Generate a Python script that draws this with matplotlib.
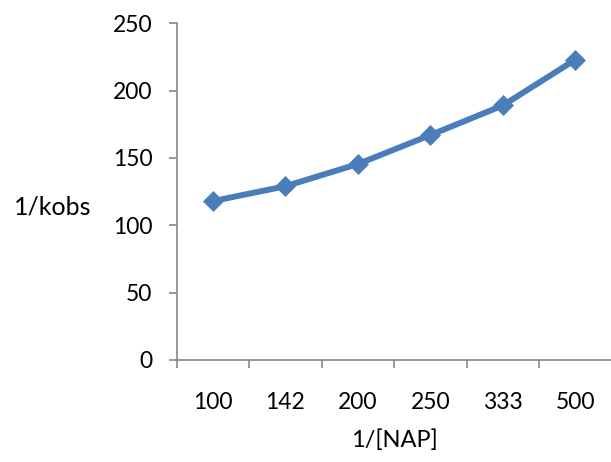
import matplotlib.pyplot as plt

# data
nap_labels = ["100", "142", "200", "250", "333", "500"]
inv_kobs = [118, 129, 145.5, 167, 189, 223]

plt.rcParams['font.family'] = ['Lato', 'DejaVu Sans']

fig = plt.figure(figsize=(6.11, 4.62), dpi=100)
ax = fig.add_axes([0.2892, 0.2208, 0.7118, 0.7288])

x = range(len(nap_labels))
ax.plot(x, inv_kobs, color="#4A7EBB", lw=4.3, marker="D", ms=10,
        mec="#4A7EBB", mew=0.5, solid_joinstyle="miter")

# axes styling (Excel-like)
ax.set_xlim(-0.5, len(nap_labels) - 0.5)
ax.set_ylim(0, 250)
ax.set_yticks(range(0, 251, 50))
ax.set_xticks([i - 0.5 for i in range(len(nap_labels) + 1)])
ax.set_xticklabels([])
ax.set_xticks(list(x), minor=True)
ax.set_xticklabels(nap_labels, minor=True)

for side in ("top", "right"):
    ax.spines[side].set_visible(False)
for side in ("left", "bottom"):
    ax.spines[side].set_color("#868686")
    ax.spines[side].set_linewidth(1.2)

ax.tick_params(axis="y", which="major", direction="out", length=6, width=1.2,
               color="#868686", labelsize=16.5, pad=11.5)
ax.tick_params(axis="x", which="major", direction="out", length=6, width=1.2,
               color="#868686")
ax.tick_params(axis="x", which="minor", length=0, labelsize=16.5, pad=23)

ax.set_ylabel("1/kobs", fontsize=18, rotation=0, ha="center", va="center")
ax.yaxis.set_label_coords(-0.284, 0.454)
ax.set_xlabel("1/[NAP]", fontsize=17, ha="center", va="center")
ax.xaxis.set_label_coords(0.5, -0.238)

fig.savefig("out.png", dpi=100)
